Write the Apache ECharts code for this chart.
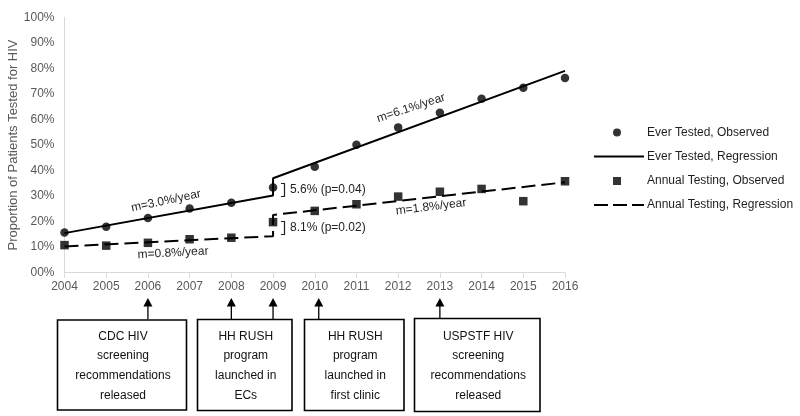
<!DOCTYPE html>
<html>
<head>
<meta charset="utf-8">
<script src="https://cdn.jsdelivr.net/npm/echarts@6/dist/echarts.min.js"></script>
<style>
html,body{margin:0;padding:0;background:#fff;}
#main{width:800px;height:416px;}
</style>
</head>
<body>
<div id="main"></div>
<script>
// ---- data ----
const years = [2004, 2005, 2006, 2007, 2008, 2009, 2010, 2011, 2012, 2013, 2014, 2015, 2016];
const everObserved = [15.7, 18.0, 21.4, 25.1, 27.4, 33.4, 41.5, 50.1, 56.9, 62.6, 68.1, 72.4, 76.2];
const annualObserved = [10.8, 10.6, 11.7, 13.1, 13.7, 19.8, 24.2, 26.8, 29.8, 31.7, 32.8, 28.0, 35.8];
const regYears = [2004, 2009, 2009, 2016];
const everRegression = [15.5, 30.2, 37.0, 79.0];
const annualRegression = [10.3, 14.3, 22.6, 35.4];
const seriesNames = ['Ever Tested, Observed', 'Ever Tested, Regression', 'Annual Testing, Observed', 'Annual Testing, Regression'];
const eventYears = [2006, 2008, 2009, 2010, 2013];
const eventBoxes = [
  'CDC HIV\nscreening\nrecommendations\nreleased',
  'HH RUSH\nprogram\nlaunched in\nECs',
  'HH RUSH\nprogram\nlaunched in\nfirst clinic',
  'USPSTF HIV\nscreening\nrecommendations\nreleased'
];
const slopeLabels = ['m=3.0%/year', 'm=0.8%/year', 'm=6.1%/year', 'm=1.8%/year'];
const jumpLabels = ['5.6% (p=0.04)', '8.1% (p=0.02)'];

const FONT = '"Liberation Sans", Arial, sans-serif';
const pair = (xs, ys) => xs.map((x, i) => [x, ys[i]]);

const chart = echarts.init(document.getElementById('main'), null, {renderer: 'canvas'});

const legendTops = [126.5, 150.5, 175, 199];
const legendIcons = [
  'circle',
  'path://M0,0H50V2H0Z',
  'rect',
  'path://M0,0H14V2H0Z M19,0H33V2H19Z M38,0H50V2H38Z'
];
const legendItems = seriesNames.map((n, i) => {
  const isLine = i % 2 === 1;
  return {
    data: [{name: n, icon: legendIcons[i]}], orient: 'vertical',
    left: isLine ? 594 : 613, top: legendTops[i], padding: 0,
    itemWidth: isLine ? 50 : 8, itemHeight: isLine ? 9 : 8, itemGap: 0,
    textStyle: {color: '#1f1f1f', fontSize: 12, fontFamily: FONT,
      padding: isLine ? [0, 0, 0, -2] : [0, 0, 0, 21]},
    selectedMode: false
  };
});

const option = {
  animation: false,
  backgroundColor: '#ffffff',
  textStyle: {fontFamily: FONT},
  grid: {left: 64.5, right: 235, top: 17.3, bottom: 143.3, containLabel: false, outerBoundsMode: 'none'},
  xAxis: {
    type: 'value', min: 2004, max: 2016, interval: 1,
    axisLine: {show: true, lineStyle: {color: '#d9d9d9', width: 1}},
    axisTick: {show: true, length: 5, lineStyle: {color: '#d9d9d9'}},
    splitLine: {show: false},
    axisLabel: {color: '#595959', fontSize: 12, fontFamily: FONT, margin: 8, formatter: v => String(v)}
  },
  yAxis: {
    type: 'value', min: 0, max: 100, interval: 10,
    name: 'Proportion of Patients Tested for HIV',
    nameLocation: 'middle', nameGap: 45, nameMoveOverlap: false,
    nameTextStyle: {color: '#595959', fontSize: 13, fontFamily: FONT},
    axisLine: {show: true, lineStyle: {color: '#d9d9d9', width: 1}},
    axisTick: {show: false},
    splitLine: {show: false},
    axisLabel: {color: '#595959', fontSize: 12, fontFamily: FONT, margin: 10,
      formatter: v => (v === 0 ? '00' : String(v)) + '%'}
  },
  legend: legendItems,
  series: [
    {name: seriesNames[0], type: 'scatter', symbol: 'circle', symbolSize: 8.5,
      itemStyle: {color: '#000'}, data: pair(years, everObserved), z: 5},
    {name: seriesNames[1], type: 'line', symbol: 'none', showSymbol: false,
      lineStyle: {color: '#000', width: 2, type: 'solid'}, itemStyle: {color: '#000'},
      data: pair(regYears, everRegression), z: 3},
    {name: seriesNames[2], type: 'scatter', symbol: 'rect', symbolSize: 8.5,
      itemStyle: {color: '#000'}, data: pair(years, annualObserved), z: 5},
    {name: seriesNames[3], type: 'line', symbol: 'none', showSymbol: false,
      lineStyle: {color: '#000', width: 2, type: [14, 6]}, itemStyle: {color: '#000'},
      data: pair(regYears, annualRegression), z: 3}
  ]
};
chart.setOption(option);

// ---- annotations ----
const g = [];
const deg = d => d * Math.PI / 180;
const txtStyle = (text, extra) => Object.assign({text, fill: '#1f1f1f', font: '12px ' + FONT, align: 'center', verticalAlign: 'middle'}, extra || {});
// slope labels
const slopePos = [[166, 201, 12], [173, 253, 3], [411, 108, 18], [431, 207, 7]];
slopeLabels.forEach((t, i) => {
  g.push({type: 'text', x: slopePos[i][0], y: slopePos[i][1], rotation: deg(slopePos[i][2]), style: txtStyle(t), z: 10});
});
// jump labels with brackets
const jumpY = [190, 228];
jumpLabels.forEach((t, i) => {
  const y = jumpY[i];
  g.push({type: 'polyline', shape: {points: [[281, y - 6.5], [284.5, y - 6.5], [284.5, y + 6.5], [281, y + 6.5]]},
    style: {stroke: '#1f1f1f', lineWidth: 1.2, fill: null}, z: 10});
  g.push({type: 'text', x: 290, y: y, style: txtStyle(t, {align: 'left'}), z: 10});
});
// arrows
eventYears.forEach(yr => {
  const px = chart.convertToPixel({xAxisIndex: 0}, yr) + (yr === 2010 ? 4 : 0);
  g.push({type: 'line', shape: {x1: px, y1: 319, x2: px, y2: 305}, style: {stroke: '#000', lineWidth: 1.3}, z: 10});
  g.push({type: 'polygon', shape: {points: [[px - 4.5, 306.5], [px + 4.5, 306.5], [px, 298]]}, style: {fill: '#000'}, z: 10});
});
// boxes
const boxRects = [[57.5, 320, 129, 90], [197.5, 319.5, 94.5, 91], [304.5, 319.5, 99.5, 91], [414.5, 318.5, 125.5, 93]];
eventBoxes.forEach((t, i) => {
  const b = boxRects[i];
  g.push({type: 'rect', shape: {x: b[0], y: b[1], width: b[2], height: b[3]},
    style: {fill: '#fff', stroke: '#000', lineWidth: 1.6}, z: 9});
  g.push({type: 'text', x: b[0] + b[2] / 2 + 1, y: b[1] + b[3] / 2 + 1,
    style: txtStyle(t, {fill: '#111', lineHeight: 19.7}), z: 11});
});
chart.setOption({graphic: g});
</script>
</body>
</html>
